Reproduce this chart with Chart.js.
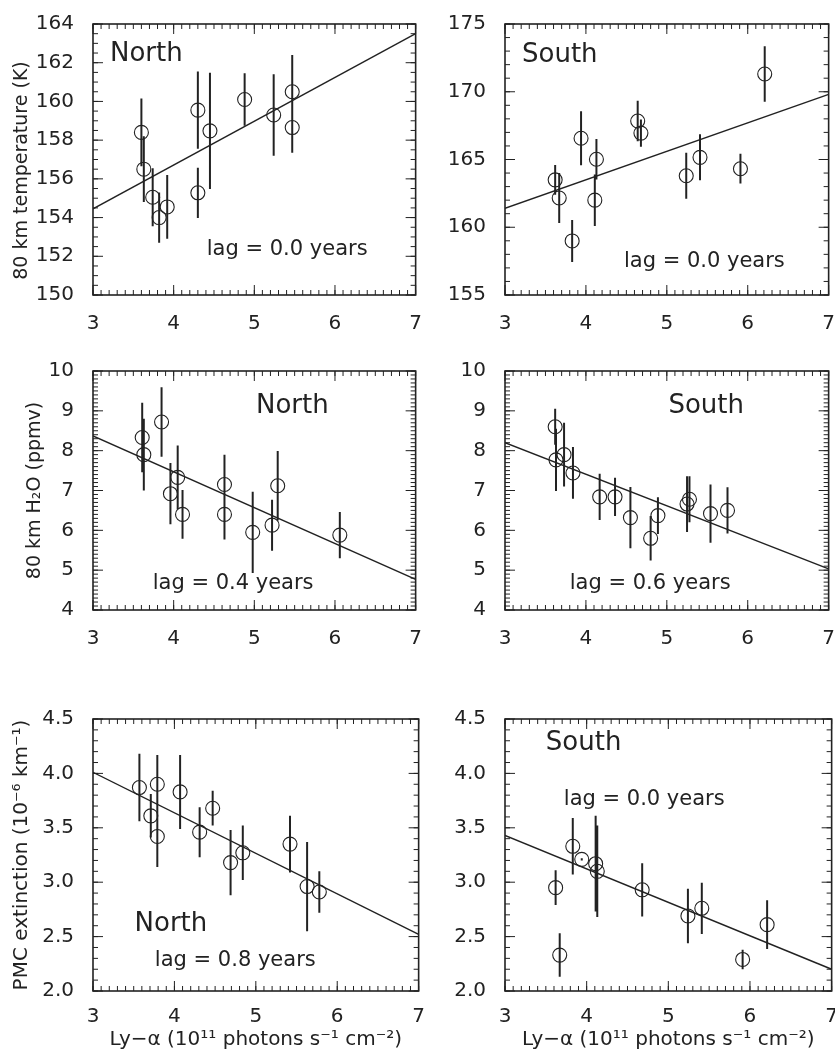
<!DOCTYPE html>
<html><head><meta charset="utf-8">
<script src="https://cdn.jsdelivr.net/npm/chart.js@4.4.0/dist/chart.umd.min.js"></script>
<style>
html,body{margin:0;padding:0;background:#fff;}
body{width:835px;height:1055px;position:relative;overflow:hidden;}
.panel{position:absolute;}
</style></head><body>
<div id="p1" class="panel"><canvas></canvas></div>
<div id="p2" class="panel"><canvas></canvas></div>
<div id="p3" class="panel"><canvas></canvas></div>
<div id="p4" class="panel"><canvas></canvas></div>
<div id="p5" class="panel"><canvas></canvas></div>
<div id="p6" class="panel"><canvas></canvas></div>
<script>
// ---------- data ----------
const lyaTicks = [3, 4, 5, 6, 7];
const tempNorthTicks = [150, 152, 154, 156, 158, 160, 162, 164];
const tempSouthTicks = [155, 160, 165, 170, 175];
const h2oTicks = [4, 5, 6, 7, 8, 9, 10];
const pmcTicks = [2.0, 2.5, 3.0, 3.5, 4.0, 4.5];
const fitX = [3, 7];

const tempNorthX   = [3.60, 3.63, 3.74, 3.82, 3.92, 4.30, 4.30, 4.45, 4.88, 5.24, 5.47, 5.47];
const tempNorthY   = [158.4, 156.5, 155.05, 154.0, 154.55, 159.55, 155.28, 158.48, 160.1, 159.3, 160.5, 158.65];
const tempNorthErr = [1.75, 1.7, 1.5, 1.3, 1.65, 2.0, 1.3, 3.0, 1.35, 2.1, 1.9, 1.3];
const tempNorthFit = [154.45, 163.5];

const tempSouthX   = [3.62, 3.67, 3.83, 3.94, 4.11, 4.13, 4.64, 4.68, 5.24, 5.41, 5.91, 6.21];
const tempSouthY   = [163.5, 162.16, 158.99, 166.57, 162.0, 165.02, 167.84, 166.95, 163.8, 165.16, 164.32, 171.31];
const tempSouthErr = [1.1, 1.85, 1.55, 2.0, 1.9, 1.5, 1.5, 1.0, 1.7, 1.7, 1.1, 2.05];
const tempSouthFit = [161.4, 169.8];

const h2oNorthX   = [3.61, 3.63, 3.85, 3.96, 4.05, 4.11, 4.63, 4.63, 4.98, 5.22, 5.29, 6.06];
const h2oNorthY   = [8.33, 7.9, 8.72, 6.92, 7.33, 6.4, 7.15, 6.4, 5.95, 6.13, 7.12, 5.88];
const h2oNorthErr = [0.87, 0.9, 0.87, 0.77, 0.8, 0.61, 0.75, 0.63, 1.02, 0.64, 0.87, 0.58];
const h2oNorthFit = [8.37, 4.77];

const h2oSouthX   = [3.62, 3.63, 3.73, 3.84, 4.17, 4.36, 4.55, 4.80, 4.89, 5.25, 5.28, 5.54, 5.75];
const h2oSouthY   = [8.6, 7.77, 7.9, 7.44, 6.84, 6.84, 6.32, 5.8, 6.37, 6.66, 6.78, 6.42, 6.5];
const h2oSouthErr = [0.45, 0.78, 0.8, 0.65, 0.58, 0.48, 0.77, 0.56, 0.46, 0.7, 0.58, 0.73, 0.58];
const h2oSouthFit = [8.2, 5.03];

const pmcNorthX   = [3.57, 3.71, 3.79, 3.79, 4.07, 4.31, 4.47, 4.69, 4.84, 5.42, 5.63, 5.78];
const pmcNorthY   = [3.87, 3.61, 3.90, 3.42, 3.83, 3.46, 3.68, 3.18, 3.27, 3.35, 2.96, 2.91];
const pmcNorthErr = [0.31, 0.2, 0.27, 0.28, 0.34, 0.23, 0.16, 0.3, 0.25, 0.26, 0.41, 0.19];
const pmcNorthFit = [4.01, 2.52];

const pmcSouthX   = [3.62, 3.67, 3.83, 3.94, 4.11, 4.13, 4.68, 5.24, 5.41, 5.91, 6.21];
const pmcSouthY   = [2.95, 2.33, 3.33, 3.21, 3.17, 3.10, 2.93, 2.69, 2.76, 2.29, 2.61];
const pmcSouthErr = [0.16, 0.2, 0.26, 0.01, 0.44, 0.42, 0.245, 0.25, 0.235, 0.09, 0.225];
const pmcSouthFit = [3.43, 2.2];

const regionNames = ['North', 'South'];
const lagLabels = ['lag = 0.0 years', 'lag = 0.0 years', 'lag = 0.4 years', 'lag = 0.6 years', 'lag = 0.8 years', 'lag = 0.0 years'];
const yTitles = ['80 km temperature (K)', '80 km H\u2082O (ppmv)', 'PMC extinction (10\u207B\u2076 km\u207B\u00B9)'];
const xTitle = 'Ly\u2212\u03B1 (10\u00B9\u00B9 photons s\u207B\u00B9 cm\u207B\u00B2)';

// ---------- style / layout ----------
const INK = '#222';
const FONT = "'DejaVu Sans', sans-serif";

const boxTicks = {
  id: 'boxTicks',
  afterDatasetsDraw(chart, args, o) {
    const {ctx, chartArea: {left, right, top, bottom}, scales: {x, y}} = chart;
    ctx.save();
    ctx.strokeStyle = INK;
    ctx.lineWidth = 1;
    const seg = (a, b, c, d) => { ctx.beginPath(); ctx.moveTo(a, b); ctx.lineTo(c, d); ctx.stroke(); };
    const steps = (min, max, st) => { const r = []; const n = Math.round((max - min) / st); for (let i = 0; i <= n; i++) r.push(min + i * st); return r; };
    steps(x.min, x.max, o.xMinor).forEach(v => { const p = x.getPixelForValue(v); seg(p, bottom, p, bottom - 5); seg(p, top, p, top + 5); });
    x.ticks.forEach(t => { const p = x.getPixelForValue(t.value); seg(p, bottom, p, bottom - 10); seg(p, top, p, top + 10); });
    steps(y.min, y.max, o.yMinor).forEach(v => { const p = y.getPixelForValue(v); seg(left, p, left + 5, p); seg(right, p, right - 5, p); });
    y.ticks.forEach(t => { const p = y.getPixelForValue(t.value); seg(left, p, left + 10, p); seg(right, p, right - 10, p); });
    ctx.lineWidth = 1.6;
    ctx.strokeRect(left, top, right - left, bottom - top);
    ctx.restore();
  }
};

const panelText = {
  id: 'panelText',
  afterDatasetsDraw(chart, args, o) {
    const {ctx, chartArea, scales: {x, y}} = chart;
    ctx.save();
    ctx.fillStyle = INK;
    ctx.textAlign = 'left';
    ctx.textBaseline = 'middle';
    (o.items || []).forEach(it => {
      ctx.font = it.size + 'px ' + FONT;
      ctx.fillText(it.text, x.getPixelForValue(it.x), y.getPixelForValue(it.y));
    });
    if (o.yTitle) {
      const t = o.yTitle;
      ctx.font = t.size + 'px ' + FONT;
      ctx.textAlign = 'center';
      ctx.translate(chartArea.left - t.dx, (chartArea.top + chartArea.bottom) / 2 + t.dy);
      ctx.rotate(-Math.PI / 2);
      ctx.fillText(t.text, 0, 0);
    }
    ctx.restore();
  }
};

function errData(xs, ys, es) {
  const d = [];
  xs.forEach((xv, i) => { d.push({x: xv, y: ys[i] - es[i]}); d.push({x: xv, y: ys[i] + es[i]}); d.push({x: xv, y: null}); });
  return d;
}

function makePanel(cfg) {
  const xh = cfg.xh;
  const el = document.getElementById(cfg.id);
  el.style.left = (cfg.L - 90) + 'px';
  el.style.top = (cfg.T - 12) + 'px';
  el.style.width = (cfg.R - cfg.L + 102) + 'px';
  el.style.height = (cfg.B - cfg.T + 12 + xh) + 'px';
  const tickFont = {family: FONT, size: 20};
  new Chart(el.querySelector('canvas'), {
    type: 'scatter',
    data: {
      datasets: [
        {data: errData(cfg.xs, cfg.ys, cfg.es), showLine: true, spanGaps: false, borderColor: INK, borderWidth: 2, pointRadius: 0},
        {data: cfg.xs.map((v, i) => ({x: v, y: cfg.ys[i]})), pointStyle: 'circle', pointRadius: 7, pointBorderWidth: 1.1, borderColor: INK, backgroundColor: 'rgba(0,0,0,0)'},
        {data: fitX.map((v, i) => ({x: v, y: cfg.fit[i]})), showLine: true, borderColor: INK, borderWidth: 1.4, pointRadius: 0}
      ]
    },
    options: {
      responsive: true, maintainAspectRatio: false, animation: false, events: [],
      layout: {padding: {left: 0, top: 12, right: 12, bottom: 0}},
      plugins: {
        legend: {display: false}, tooltip: {enabled: false},
        boxTicks: {xMinor: 0.1, yMinor: cfg.yMinor},
        panelText: {items: cfg.texts, yTitle: cfg.yTitle}
      },
      scales: {
        x: {
          type: 'linear', min: 3, max: 7,
          afterBuildTicks: s => { s.ticks = lyaTicks.map(v => ({value: v})); },
          afterFit: s => { s.height = xh; },
          grid: {display: false}, border: {display: false},
          ticks: {padding: cfg.xTitle ? 6 : 9, font: tickFont, color: INK, maxRotation: 0, autoSkip: false, callback: v => String(v)},
          title: {display: !!cfg.xTitle, text: cfg.xTitle || '', color: INK, font: {family: FONT, size: 20}, padding: {top: 0, bottom: 3}}
        },
        y: {
          type: 'linear', min: cfg.yTicks[0], max: cfg.yTicks[cfg.yTicks.length - 1],
          afterBuildTicks: s => { s.ticks = cfg.yTicks.map(v => ({value: v})); },
          afterFit: s => { s.width = 90; },
          grid: {display: false}, border: {display: false},
          ticks: {padding: 11, font: tickFont, color: INK, autoSkip: false, callback: v => v.toFixed(cfg.dec)},
          title: {display: false}
        }
      }
    },
    plugins: [boxTicks, panelText]
  });
}

makePanel({id: 'p1', L: 93, T: 13, R: 419, B: 295, xh: 40, xs: tempNorthX, ys: tempNorthY, es: tempNorthErr, fit: tempNorthFit,
  yTicks: tempNorthTicks, yMinor: 0.5, dec: 0,
  yTitle: {text: yTitles[0], size: 19, dx: 71, dy: 11},
  texts: [{text: regionNames[0], x: 3.21, y: 162.45, size: 26}, {text: lagLabels[0], x: 4.41, y: 152.35, size: 21}]});
makePanel({id: 'p2', L: 505, T: 13, R: 832, B: 295, xh: 40, xs: tempSouthX, ys: tempSouthY, es: tempSouthErr, fit: tempSouthFit,
  yTicks: tempSouthTicks, yMinor: 1, dec: 0,
  texts: [{text: regionNames[1], x: 3.21, y: 172.7, size: 26}, {text: lagLabels[1], x: 4.47, y: 157.5, size: 21}]});
makePanel({id: 'p3', L: 93, T: 360, R: 419, B: 610, xh: 40, xs: h2oNorthX, ys: h2oNorthY, es: h2oNorthErr, fit: h2oNorthFit,
  yTicks: h2oTicks, yMinor: 0.1, dec: 0,
  yTitle: {text: yTitles[1], size: 19, dx: 58, dy: 0},
  texts: [{text: regionNames[0], x: 5.02, y: 9.11, size: 26}, {text: lagLabels[2], x: 3.74, y: 4.67, size: 21}]});
makePanel({id: 'p4', L: 505, T: 360, R: 832, B: 610, xh: 40, xs: h2oSouthX, ys: h2oSouthY, es: h2oSouthErr, fit: h2oSouthFit,
  yTicks: h2oTicks, yMinor: 0.1, dec: 0,
  texts: [{text: regionNames[1], x: 5.02, y: 9.11, size: 26}, {text: lagLabels[3], x: 3.80, y: 4.67, size: 21}]});
makePanel({id: 'p5', L: 93, T: 708, R: 419, B: 991, xh: 64, xs: pmcNorthX, ys: pmcNorthY, es: pmcNorthErr, fit: pmcNorthFit,
  yTicks: pmcTicks, yMinor: 0.1, dec: 1, xTitle: xTitle,
  yTitle: {text: yTitles[2], size: 20, dx: 71, dy: 0},
  texts: [{text: regionNames[0], x: 3.51, y: 2.61, size: 26}, {text: lagLabels[4], x: 3.76, y: 2.28, size: 21}]});
makePanel({id: 'p6', L: 505, T: 708, R: 832, B: 991, xh: 64, xs: pmcSouthX, ys: pmcSouthY, es: pmcSouthErr, fit: pmcSouthFit,
  yTicks: pmcTicks, yMinor: 0.1, dec: 1, xTitle: xTitle,
  texts: [{text: regionNames[1], x: 3.50, y: 4.28, size: 26}, {text: lagLabels[5], x: 3.72, y: 3.76, size: 21}]});
</script>
</body></html>
